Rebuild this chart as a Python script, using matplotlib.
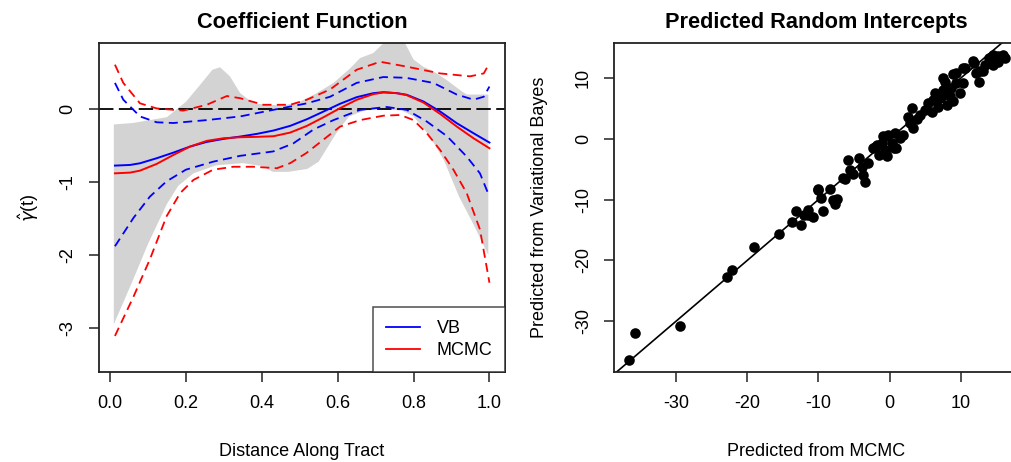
import matplotlib
matplotlib.use("Agg")
import matplotlib.pyplot as plt
from matplotlib.lines import Line2D

plt.rcParams['font.family'] = ['Liberation Sans', 'DejaVu Sans']

# ---------------- Left panel data ----------------
band_up_x = [0.01, 0.06, 0.15, 0.20, 0.237, 0.27, 0.29, 0.316, 0.343, 0.378, 0.413, 0.457,
             0.50, 0.545, 0.589, 0.633, 0.659, 0.694, 0.72, 0.747, 0.773, 0.80, 0.826,
             0.852, 0.887, 0.923, 0.94, 0.997]
band_up_y = [-0.21, -0.19, -0.11, 0.10, 0.33, 0.54, 0.575, 0.45, 0.22, 0.08, 0.06, 0.05,
             0.10, 0.22, 0.36, 0.56, 0.70, 0.77, 0.90, 0.98, 0.95, 0.68, 0.58,
             0.52, 0.40, 0.26, 0.20, 0.20]
band_lo_x = [0.01, 0.06, 0.10, 0.15, 0.18, 0.22, 0.28, 0.35, 0.40, 0.43, 0.47, 0.52, 0.55,
             0.57, 0.60, 0.63, 0.67, 0.72, 0.77, 0.80, 0.84, 0.88, 0.92, 0.96, 0.997]
band_lo_y = [-2.95, -2.35, -1.85, -1.30, -1.05, -0.88, -0.77, -0.74, -0.78, -0.86, -0.86,
             -0.82, -0.72, -0.55, -0.30, -0.10, -0.02, 0.00, -0.02, -0.10, -0.35, -0.70,
             -1.20, -1.60, -2.00]

mean_x = [0.013, 0.053, 0.079, 0.123, 0.167, 0.211, 0.255, 0.299, 0.343, 0.387, 0.431,
          0.475, 0.519, 0.563, 0.606, 0.650, 0.694, 0.721, 0.756, 0.782, 0.826, 0.870,
          0.914, 0.958, 1.0]
vb_mean = [-0.774, -0.765, -0.742, -0.673, -0.596, -0.513, -0.449, -0.408, -0.376, -0.339,
           -0.293, -0.229, -0.138, -0.032, 0.073, 0.164, 0.219, 0.233, 0.219, 0.197,
           0.105, -0.032, -0.193, -0.330, -0.458]
mc_mean = [-0.880, -0.870, -0.843, -0.751, -0.628, -0.513, -0.435, -0.399, -0.385, -0.380,
           -0.371, -0.321, -0.229, -0.110, 0.013, 0.128, 0.206, 0.229, 0.219, 0.192,
           0.091, -0.065, -0.239, -0.399, -0.536]

vb_up_x = [0.013, 0.035, 0.079, 0.123, 0.167, 0.255, 0.343, 0.43, 0.519, 0.58, 0.65, 0.72,
           0.78, 0.852, 0.914, 0.958, 0.985, 1.0]
vb_up_y = [0.36, 0.13, -0.10, -0.18, -0.19, -0.15, -0.10, -0.01, 0.08, 0.17, 0.36, 0.44,
           0.43, 0.36, 0.20, 0.13, 0.17, 0.31]
mc_up_x = [0.013, 0.035, 0.079, 0.123, 0.193, 0.255, 0.308, 0.343, 0.404, 0.475, 0.519,
           0.58, 0.65, 0.712, 0.78, 0.87, 0.949, 0.985, 1.0]
mc_up_y = [0.61, 0.36, 0.08, 0.01, -0.02, 0.06, 0.18, 0.15, 0.06, 0.06, 0.13, 0.27, 0.54,
           0.65, 0.585, 0.49, 0.45, 0.49, 0.63]
vb_lo_x = [0.013, 0.062, 0.105, 0.149, 0.20, 0.272, 0.343, 0.43, 0.483, 0.536, 0.589,
           0.659, 0.729, 0.782, 0.835, 0.888, 0.94, 0.975, 1.0]
vb_lo_y = [-1.88, -1.49, -1.20, -0.99, -0.83, -0.72, -0.64, -0.58, -0.47, -0.28, -0.15,
           -0.01, 0.03, -0.01, -0.17, -0.37, -0.65, -0.88, -1.20]
mc_lo_x = [0.013, 0.062, 0.105, 0.149, 0.185, 0.22, 0.272, 0.325, 0.378, 0.44, 0.475,
           0.518, 0.562, 0.606, 0.659, 0.72, 0.765, 0.80, 0.835, 0.87, 0.905, 0.94, 0.975, 1.0]
mc_lo_y = [-3.11, -2.57, -2.06, -1.47, -1.15, -0.97, -0.83, -0.79, -0.79, -0.81, -0.74,
           -0.60, -0.42, -0.24, -0.15, -0.09, -0.08, -0.15, -0.33, -0.56, -0.83, -1.15,
           -1.65, -2.38]

left_xticks = [0.0, 0.2, 0.4, 0.6, 0.8, 1.0]
left_xticklabels = ["0.0", "0.2", "0.4", "0.6", "0.8", "1.0"]
left_yticks = [-3, -2, -1, 0]
legend_labels = ["VB", "MCMC"]

# ---------------- Right panel data ----------------
mcmc_pred = [-36.6, -35.7, -29.5, -22.8, -22.1, -19.0, -15.5, -13.7, -13.1, -12.5, -12.0,
             -11.4, -10.7, -11.4, -10.0, -9.6, -9.3, -8.4, -7.7, -7.4, -6.6, -6.3, -5.8,
             -5.6, -5.1, -4.3, -3.9, -3.7, -3.4, -3.0, -2.3, -1.8, -1.5, -1.1, -0.9, -0.7,
             -0.4, -0.2, 0.3, 0.6, 0.9, 0.7, 1.5, 1.9, 3.1, 2.6, 3.3, 3.8, 4.3, 5.0, 5.4,
             5.9, 6.1, 6.4, 6.8, 7.1, 7.5, 7.8, 8.0, 8.5, 8.7, 8.9, 9.4, 9.9, 10.3, 10.6,
             11.8, 12.5, 12.7, 13.4, 13.9, 14.6, 15.3, 16.0, 14.8, 2.85, -2.1, -0.66,
             7.5, 8.9, 9.4, 10.3, 11.7, 12.2, 13.1, 14.6, 15.3, 16.2, 7.3, -10.0, -7.9]
vb_pred = [-36.4, -31.9, -30.8, -22.8, -21.6, -17.8, -15.7, -13.7, -11.8, -14.2, -12.5,
           -11.7, -12.8, -12.5, -8.2, -9.7, -11.8, -8.2, -10.7, -9.9, -6.5, -6.6, -3.4,
           -5.1, -5.7, -3.2, -4.6, -5.9, -7.1, -3.9, -1.5, -1.0, -2.6, -0.7, 0.4, -1.8,
           -2.9, 0.7, -0.7, -1.5, -1.5, 0.9, 0.1, 0.7, 5.1, 3.6, 1.8, 3.2, 4.0, 4.8, 5.9,
           4.5, 6.4, 7.5, 5.3, 6.7, 8.1, 9.4, 5.6, 7.0, 8.3, 6.2, 10.8, 7.5, 9.2, 11.6,
           12.5, 9.4, 11.1, 12.2, 13.3, 13.8, 12.7, 13.8, 13.3, 2.6, -1.3, -2.3,
           10.0, 10.6, 9.2, 11.7, 12.8, 10.9, 11.2, 12.2, 13.6, 13.3, 7.0, -8.4, -10.0]
right_xticks = [-30, -20, -10, 0, 10]
right_yticks = [-30, -20, -10, 0, 10]

# ---------------- Figure ----------------
W, H = 1011, 462
fig = plt.figure(figsize=(W / 100, H / 100), dpi=100)

def frac(x0, x1, ytop, ybot):
    return [x0 / W, (H - ybot) / H, (x1 - x0) / W, (ybot - ytop) / H]

tick_fs = 13
lab_fs = 13
title_fs = 15.7

def r_style(ax):
    for s in ax.spines.values():
        s.set_linewidth(1.3)
        s.set_color("#222222")
    ax.tick_params(direction="out", length=7.2, width=1.1, labelsize=tick_fs, pad=9,
                   color="#222222")
    for lab in ax.get_yticklabels():
        lab.set_rotation(90)
        lab.set_va("center")

# Left panel
ax1 = fig.add_axes(frac(99, 505, 43, 372))
poly_x = band_up_x + band_lo_x[::-1]
poly_y = band_up_y + band_lo_y[::-1]
ax1.fill(poly_x, poly_y, color="#D3D3D3", lw=0, zorder=1)
ax1.axhline(0, color="black", lw=1.3, ls=(0, (8, 3)), zorder=2)
ax1.plot(vb_up_x, vb_up_y, color="blue", lw=1.3, ls=(0, (5, 3)), zorder=3)
ax1.plot(vb_lo_x, vb_lo_y, color="blue", lw=1.3, ls=(0, (5, 3)), zorder=3)
ax1.plot(mc_up_x, mc_up_y, color="red", lw=1.3, ls=(0, (5, 3)), zorder=3)
ax1.plot(mc_lo_x, mc_lo_y, color="red", lw=1.3, ls=(0, (5, 3)), zorder=3)
ax1.plot(mean_x, vb_mean, color="blue", lw=1.4, zorder=4)
ax1.plot(mean_x, mc_mean, color="red", lw=1.4, zorder=4)
ax1.set_xlim(-0.029, 1.041)
ax1.set_ylim(-3.604, 0.907)
ax1.set_xticks(left_xticks)
ax1.set_xticklabels(left_xticklabels)
ax1.set_yticks(left_yticks)
ax1.set_yticklabels([str(v) for v in left_yticks])
r_style(ax1)
ax1.set_title("Coefficient Function", fontsize=title_fs, fontweight="bold", pad=11)
ax1.set_xlabel("Distance Along Tract", fontsize=lab_fs, labelpad=23)
ax1.set_ylabel(r"$\hat{\gamma}$(t)", fontsize=lab_fs)
ax1.yaxis.set_label_coords(-0.142, 0.5)
handles = [Line2D([], [], color="blue", lw=1.3), Line2D([], [], color="red", lw=1.3)]
leg = ax1.legend(handles, legend_labels, loc="lower right", fontsize=13, frameon=True,
                 fancybox=False, borderaxespad=0, handlelength=1.9, handletextpad=0.9,
                 borderpad=0.7, labelspacing=0.3)
leg.get_frame().set_edgecolor("#222222")
leg.get_frame().set_linewidth(1.1)

# Right panel
ax2 = fig.add_axes(frac(614.3, 1017.7, 43, 372))
ax2.scatter(mcmc_pred, vb_pred, s=58, color="black", zorder=3, linewidths=0)
ax2.set_xlim(-38.67, 18.0)
ax2.set_ylim(-38.35, 15.77)
ax2.axline((0, 0), slope=1, color="black", lw=1.2, zorder=2)
ax2.set_xticks(right_xticks)
ax2.set_xticklabels([str(v) for v in right_xticks])
ax2.set_yticks(right_yticks)
ax2.set_yticklabels([str(v) for v in right_yticks])
r_style(ax2)
ax2.set_title("Predicted Random Intercepts", fontsize=title_fs, fontweight="bold", pad=11)
ax2.set_xlabel("Predicted from MCMC", fontsize=lab_fs, labelpad=23)
ax2.set_ylabel("Predicted from Variational Bayes", fontsize=lab_fs)
ax2.yaxis.set_label_coords(-0.164, 0.5)

fig.savefig("out.png", dpi=100, facecolor="white")
